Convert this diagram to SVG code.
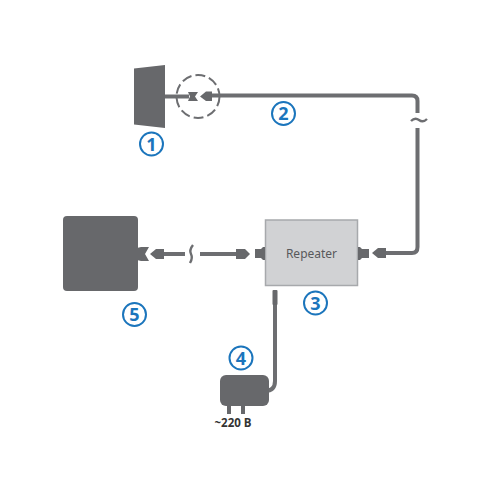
<svg xmlns="http://www.w3.org/2000/svg" width="500" height="500" viewBox="0 0 500 500">
<style>
.d{fill:#67686b}
.c{fill:none;stroke:#6d6e71;stroke-width:4}
.b{fill:none;stroke:#1b75bc;stroke-width:2}
.n{font:bold 18px "Open Sans","Liberation Sans",sans-serif;fill:#1b75bc;text-anchor:middle}
</style>
<rect width="500" height="500" fill="#fff"/>
<g id="connectors">
<path class="c" d="M163 96.500H189"/>
<path class="c" d="M208 95.500H412Q417.500 95.500 417.500 101V113"/>
<path class="c" d="M417.500 128V247Q417.500 253 412 253H384"/>
<path class="c" d="M160 254H185"/>
<path class="c" d="M200 254H238"/>
<path class="c" d="M275 304V381Q275 391 265 391H260"/>
<path d="M411 121Q415 117 419 120T427 119" fill="none" stroke="#6d6e71" stroke-width="2.400"/>
<path d="M193 245Q189 250 191 254T190 263" fill="none" stroke="#6d6e71" stroke-width="2.400"/>
<circle cx="198" cy="96.500" r="21.500" fill="none" stroke="#6d6e71" stroke-width="2" stroke-dasharray="10 4"/>
</g>
<g id="node1">
<path class="d" d="M134 68.500L165 65V128L134 124.500Z"/>
<path class="d" d="M188 92H198L195 96.500L198 101H188L190 96.500Z"/>
<path class="d" d="M200 96.500L206 91.500H212V101H206Z"/>
<circle class="b" cx="151.500" cy="144" r="11.500"/>
<text class="n" x="151.500" y="150.500">1</text>
</g>
<g id="node2">
<circle class="b" cx="283.500" cy="113.500" r="11.500"/>
<text class="n" x="283.500" y="120">2</text>
</g>
<g id="node3">
<rect x="265.500" y="220" width="92" height="65.500" fill="#d1d2d4" stroke="#a7a9ac" stroke-width="1.500"/>
<text x="311.500" y="257.500" font-family="'Noto Sans','Liberation Sans',sans-serif" font-size="12" fill="#58595b" text-anchor="middle">Repeater</text>
<path class="d" d="M255 249H261L263 247H265V260H263L261 258H255Z"/>
<path class="d" d="M358 247H360L362 249H369V258H362L360 260H358Z"/>
<path class="d" d="M372 253L378 248H386V258H378Z"/>
<path class="d" d="M236 249H245L250 254L245 259H236Z"/>
<rect class="d" x="272.500" y="290" width="5" height="15" rx="1"/>
<circle class="b" cx="315.500" cy="303" r="11.500"/>
<text class="n" x="315.500" y="309.500">3</text>
</g>
<g id="node4">
<rect class="d" x="220" y="375" width="49" height="31" rx="6"/>
<rect class="d" x="227" y="404" width="4" height="10"/>
<rect class="d" x="241" y="404" width="4" height="10"/>
<text x="233" y="427" font-family="'Open Sans','Liberation Sans',sans-serif" font-size="11.500" font-weight="bold" fill="#333" text-anchor="middle">~220 B</text>
<circle class="b" cx="241" cy="358" r="11.500"/>
<text class="n" x="241" y="364.500">4</text>
</g>
<g id="node5">
<rect class="d" x="63" y="216" width="75" height="75" rx="4"/>
<path class="d" d="M137 248L141 247H149L145 254L149 261H141L137 260Z"/>
<path class="d" d="M150 254L156 249H164V259H156Z"/>
<circle class="b" cx="134.500" cy="314.500" r="11.500"/>
<text class="n" x="134.500" y="321">5</text>
</g>
</svg>
